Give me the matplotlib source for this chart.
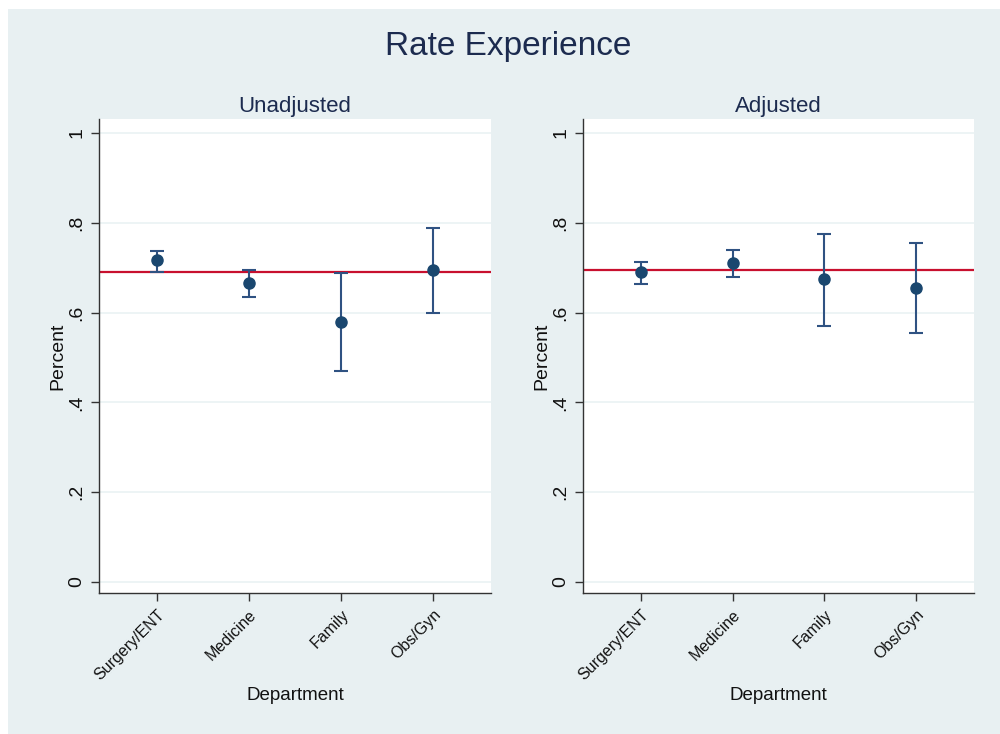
import matplotlib
matplotlib.use("Agg")
import matplotlib.pyplot as plt
from matplotlib.patches import Rectangle

plt.rcParams['font.family'] = ['Liberation Sans', 'DejaVu Sans']

departments = ["Surgery/ENT", "Medicine", "Family", "Obs/Gyn"]
positions = [1, 2, 3, 4]

unadj_est = [0.716, 0.666, 0.580, 0.694]
unadj_lo = [0.691, 0.635, 0.469, 0.600]
unadj_hi = [0.736, 0.694, 0.689, 0.788]
unadj_overall = 0.691

adj_est = [0.691, 0.710, 0.674, 0.654]
adj_lo = [0.664, 0.679, 0.570, 0.555]
adj_hi = [0.713, 0.740, 0.775, 0.755]
adj_overall = 0.694

yticks = [0, 0.2, 0.4, 0.6, 0.8, 1.0]
ytick_labels = ["0", ".2", ".4", ".6", ".8", "1"]

BG = "#e8f0f2"
NAVY = "#1a476f"
RED = "#c8102e"
GRID = "#eaf2f3"
TEXT = "#111111"

fig = plt.figure(figsize=(10, 7.34), dpi=100, facecolor="white")
fig.patches.append(Rectangle((0.008, 0.0), 0.992, 0.988, transform=fig.transFigure,
                             facecolor=BG, edgecolor="none", zorder=-10))

fig.text(0.508, 0.936, "Rate Experience", ha="center", va="center",
         fontsize=24, color="#1c2b4f")


def panel(rect, title, est, lo, hi, overall):
    ax = fig.add_axes(rect)
    ax.set_facecolor("white")
    for s in ("top", "right"):
        ax.spines[s].set_visible(False)
    for s in ("left", "bottom"):
        ax.spines[s].set_color("#333333")
        ax.spines[s].set_linewidth(1.0)
    ax.set_xlim(0.37, 4.63)
    ax.set_ylim(-0.0245, 1.031)
    ax.set_yticks(yticks)
    ax.set_yticklabels(ytick_labels, rotation=90, va="center", fontsize=14, color=TEXT)
    ax.set_xticks(positions)
    ax.set_xticklabels(departments, rotation=45, ha="right", rotation_mode="anchor",
                       fontsize=11.5, color=TEXT)
    ax.tick_params(axis="both", length=6, width=1, color="#333333", pad=4)
    ax.yaxis.grid(True, color=GRID, linewidth=1.2)
    ax.set_axisbelow(True)
    ax.axhline(overall, color=RED, linewidth=1.6, zorder=2)
    err = [[e - l for e, l in zip(est, lo)], [h - e for e, h in zip(est, hi)]]
    ax.errorbar(positions, est, yerr=err, fmt="o", color=NAVY, ecolor="#2f5282",
                markersize=8, elinewidth=1.5, capsize=5, capthick=1.5, zorder=3)
    ax.set_title(title, fontsize=16, color="#1c2b4f", pad=5)
    ax.set_ylabel("Percent", fontsize=14, color=TEXT, labelpad=1)
    ax.set_xlabel("Department", fontsize=13.5, color=TEXT, labelpad=3)
    return ax


panel([0.099, 0.1921, 0.392, 0.6458], "Unadjusted", unadj_est, unadj_lo, unadj_hi, unadj_overall)
panel([0.583, 0.1921, 0.391, 0.6458], "Adjusted", adj_est, adj_lo, adj_hi, adj_overall)

fig.savefig("out.png", dpi=100, facecolor=fig.get_facecolor())
